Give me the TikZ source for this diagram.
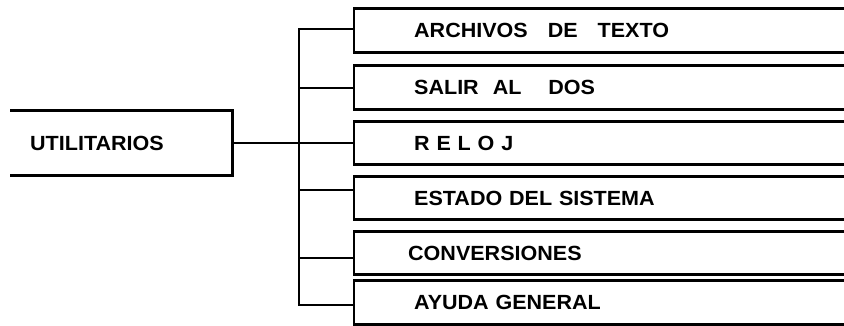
\documentclass[tikz,border=0pt]{standalone}
\usepackage{fontspec}
\setmainfont{Liberation Sans}
\newfontfamily\menufont{Liberation Sans}[FakeStretch=1.05]
\newcommand{\gap}[1]{\hspace{#1pt}}
\tikzset{
  menufont/.style={font=\menufont\bfseries\fontsize{20.5pt}{21pt}\selectfont},
  entry/.style={menufont, anchor=west, minimum width=490pt, minimum height=43pt,
    text width=370pt, inner xsep=60pt, inner ysep=0pt, align=left},
  root/.style={menufont, anchor=west, minimum width=222pt, minimum height=64pt,
    text width=182pt, inner xsep=20pt, inner ysep=0pt, align=left},
  wire/.style={line width=2.8pt, line join=miter}
}

\begin{document}
\begin{tikzpicture}[x=1pt,y=-1pt]
\useasboundingbox (0,0) rectangle (844,325);

\node[root] (util) at (10,143) {UTILITARIOS};
\node[entry] (arch) at (354,30.5) {ARCHIVOS\gap{20}DE\gap{20}TEXTO};
\node[entry] (dos)  at (354,87.5) {SALIR\gap{14}AL\gap{27}DOS};
\node[entry] (rel)  at (354,143)  {R E L O J};
\node[entry] (est)  at (354,198)  {ESTADO DEL SISTEMA};
\node[entry] (conv) at (354,253)  {\hspace{-6pt}CONVERSIONES};
\node[entry] (ayu)  at (354,302.5){AYUDA GENERAL};

\coordinate (t1) at (299,29);
\coordinate (t2) at (299,88);
\coordinate (t4) at (299,190);
\coordinate (t5) at (299,258);
\coordinate (t6) at (299,305);

\draw[wire] (util.north west) -- (util.north east) -- (util.south east) -- (util.south west);
\foreach \n in {arch,dos,rel,est,conv,ayu}
  \draw[wire] (\n.north east) -- (\n.north west) -- (\n.south west) -- (\n.south east);

\draw[wire] (util.east) -- (rel.west);
\draw[wire] (t1 -| arch.west) -- (t1) -- (t6) -- (t6 -| ayu.west);
\draw[wire] (t2) -- (t2 -| dos.west);
\draw[wire] (t4) -- (t4 -| est.west);
\draw[wire] (t5) -- (t5 -| conv.west);
\end{tikzpicture}
\end{document}
